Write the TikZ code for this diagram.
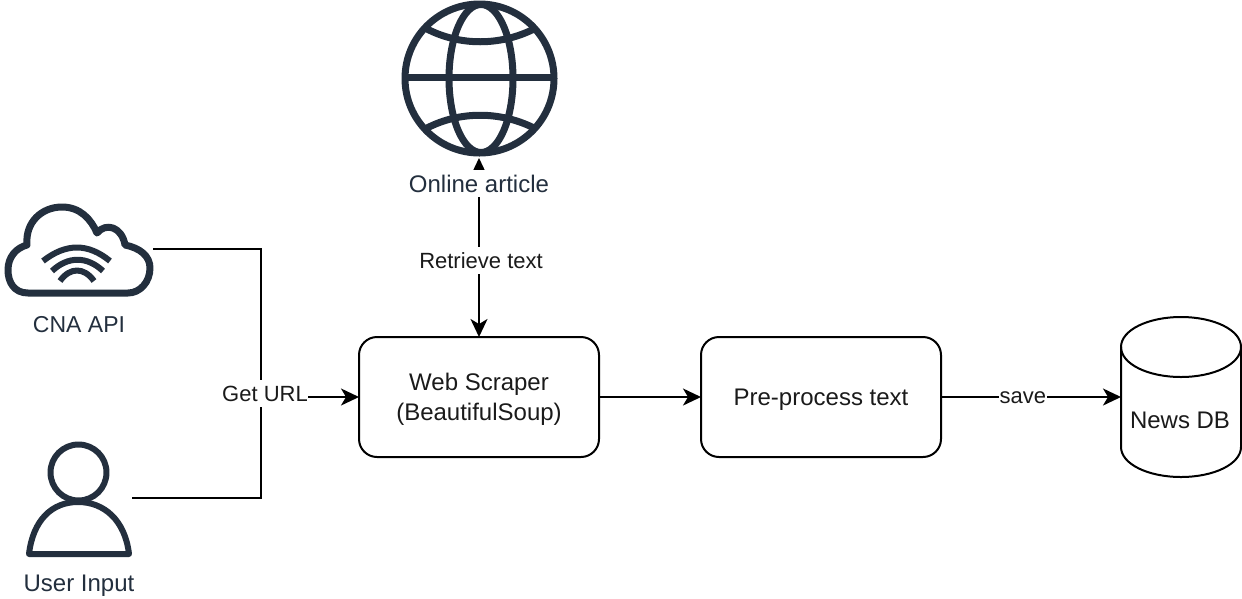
\documentclass[tikz,border=0pt]{standalone}
\usepackage{fontspec}
\setmainfont{Liberation Sans}
\usetikzlibrary{arrows.meta,positioning}
\definecolor{slate}{HTML}{232F3E}
\definecolor{ink}{HTML}{1A1A1A}

\begin{document}
\begin{tikzpicture}[x=1pt,y=-1pt,node distance=102pt,
    procbox/.style={draw,line width=2pt,rounded corners=18pt,minimum width=240pt,minimum height=120pt,align=center,font=\fontsize{24}{30}\selectfont,text=ink,inner sep=0pt,outer sep=0pt,text depth=0pt},
    iconbox/.style={inner sep=0pt,outer sep=0pt},
    iconline/.style={draw=slate,line width=7pt,line join=round},
    iconlabel/.style={fill=white,text=slate,font=\fontsize{24}{28}\selectfont,inner sep=1pt,minimum height=27pt},
    edgelabel/.style={fill=white,text=ink,font=\fontsize{22}{26}\selectfont,inner xsep=0.5pt,inner ysep=0pt,minimum height=27pt},
    link/.style={line width=2pt,-{Stealth[length=18pt,width=17pt,inset=5pt]}},
  ]
    \useasboundingbox (0,0) rectangle (1242,598);

    % process boxes
    \node[procbox] (scraper) at (479,397) {Web Scraper\\(BeautifulSoup)};
    \node[procbox,right=of scraper] (preproc) {Pre-process text};

    % icon areas
    \node[iconbox,minimum width=120pt,minimum height=160pt] (newsdb) at (1181,397) {};
    \node[iconbox,minimum width=158pt,minimum height=158pt] (globe) at (479,79) {};
    \node[iconbox,minimum width=148pt,minimum height=92pt] (cloud) at (79,249) {};
    \node[iconbox,minimum width=106pt,minimum height=112pt] (user) at (79,498) {};
    \coordinate (join) at (261,397);

    % connectors
    \draw[line width=2pt] (cloud.east) -| (join);
    \draw[line width=2pt] (user.east) -| (join);
    \draw[link] (join) -- (scraper.west);
    \draw[link,{Stealth[length=18pt,width=17pt,inset=5pt]}-{Stealth[length=18pt,width=17pt,inset=5pt]}] (globe.south) -- node[edgelabel,pos=0.574,xshift=2pt] (retrieve) {Retrieve text} (scraper.north);
    \draw[link] (scraper.east) -- (preproc.west);
    \draw[link] (preproc.east) -- node[edgelabel,pos=0.455,yshift=-1pt] (save) {save} (newsdb.west);
    \node[edgelabel] (geturl) at (265,393.5) {Get URL};

    % database
    \draw[line width=2pt,fill=white] (newsdb.north west) ++(0,30)
      .. controls +(0,-17) and +(-33,0) .. ++(60,-30)
      .. controls +(33,0) and +(0,-17) .. ++(60,30)
      -- ++(0,100)
      .. controls +(0,17) and +(33,0) .. ++(-60,30)
      .. controls +(-33,0) and +(0,17) .. ++(-60,-30) -- cycle;
    \draw[line width=2pt] (newsdb.north west) ++(0,30)
      .. controls +(0,17) and +(-33,0) .. ++(60,30)
      .. controls +(33,0) and +(0,17) .. ++(60,-30);
    \node[font=\fontsize{24}{30}\selectfont,text=ink,inner sep=0pt] (dbtxt) at (1180,420) {News DB};

    % globe
    \draw[iconline] (479.5,78.5) circle (74.5);
    \draw[iconline] (481,78.5) ellipse (32 and 74);
    \draw[iconline] (405,77) -- (554,77);
    \draw[iconline] (427,29) .. controls (460,46) and (500,46) .. (534,29);
    \draw[iconline] (427,128) .. controls (460,111) and (500,111) .. (534,128);

    % cloud
    \draw[iconline] (28,293) .. controls (14,293) and (8,282) .. (8,270)
      .. controls (8,257) and (16,248) .. (27,245)
      .. controls (25,222) and (42,207) .. (62,207)
      .. controls (80,207) and (91,219) .. (97,233)
      .. controls (106,222) and (122,227) .. (125,245)
      .. controls (140,248) and (150,256) .. (150,268)
      .. controls (150,282) and (140,293) .. (128,293) -- cycle;
    \draw[iconline,line width=6pt] (43,261) .. controls (66,243) and (88,243) .. (110,261);
    \draw[iconline,line width=6pt] (52,271) .. controls (68,256) and (87,256) .. (103,271);
    \draw[iconline,line width=6pt] (60,281) .. controls (70,267) and (84,267) .. (94,281);

    % person
    \draw[iconline,line width=6pt] (78.5,472.5) circle (28);
    \draw[iconline,line width=6pt] (29,554) .. controls (33,520) and (52,502) .. (78,502)
      .. controls (104,502) and (125,520) .. (129,554) -- cycle;

    % icon labels
    \node[iconlabel] (onlinetxt) at (479,183.5) {Online article};
    \node[iconlabel,font=\fontsize{23}{28}\selectfont] (cnatxt) at (79,325) {CNA API};
    \node[iconlabel] (usertxt) at (79,586) {User Input};
  \end{tikzpicture}
\end{document}
